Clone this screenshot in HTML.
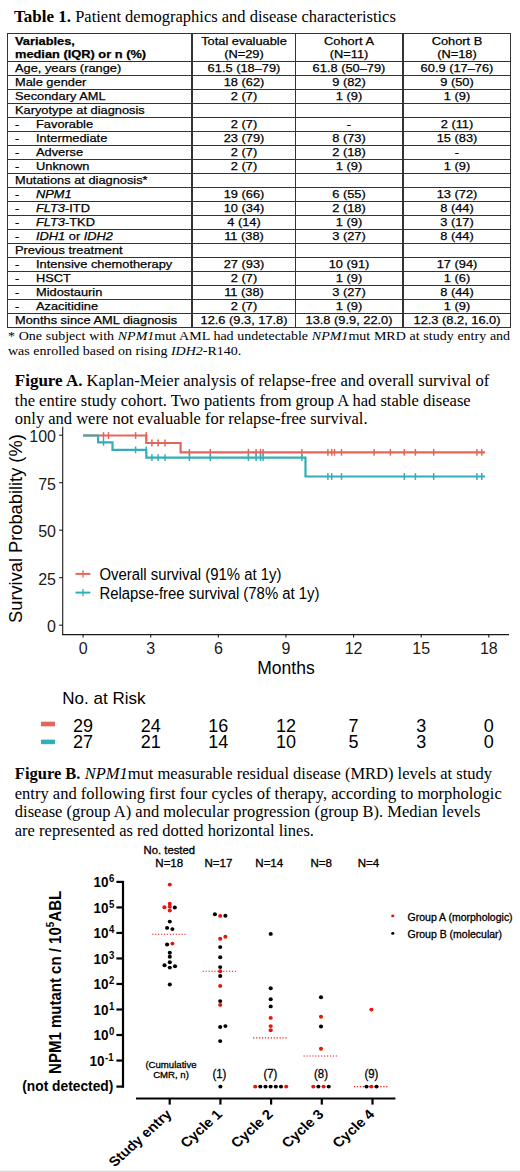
<!DOCTYPE html>
<html><head><meta charset="utf-8">
<style>
html,body{margin:0;padding:0;background:#fff;}
body{width:520px;height:1172px;position:relative;overflow:hidden;}
.t{position:absolute;white-space:nowrap;line-height:1;}
.serif{font-family:"Liberation Serif",serif;color:#000;}
.sans{font-family:"Liberation Sans",sans-serif;color:#000;}
.ln{position:absolute;background:#333;}
.tc{font-family:"Liberation Sans",sans-serif;font-size:11.4px;-webkit-text-stroke:0.25px #000;position:absolute;white-space:nowrap;line-height:1;color:#000;}
.L{transform-origin:0 0;transform:scaleX(1.167);}
.C{transform:translateX(-50%) scaleX(1.167);}
.L2{transform-origin:0 0;transform:scaleX(1.126);}
.C2{transform:translateX(-50%) scaleX(1.126);}
svg{position:absolute;left:0;top:0;}
</style></head><body>

<div class="t serif" style="left:14.00px;top:8.38px;font-size:16.5px;"><b style="font-size:17px">Table 1.</b> Patient demographics and disease characteristics</div>
<div class="ln" style="left:6.55px;top:32.85px;width:1.3px;height:294.95px"></div>
<div class="ln" style="left:191.25px;top:32.85px;width:1.3px;height:294.95px"></div>
<div class="ln" style="left:294.75px;top:32.85px;width:1.3px;height:294.95px"></div>
<div class="ln" style="left:402.25px;top:32.85px;width:1.3px;height:294.95px"></div>
<div class="ln" style="left:509.85px;top:32.85px;width:1.3px;height:294.95px"></div>
<div class="ln" style="left:6.55px;top:32.85px;width:504.60px;height:1.3px"></div>
<div class="ln" style="left:6.55px;top:60.50px;width:504.60px;height:1.3px"></div>
<div class="ln" style="left:6.55px;top:74.50px;width:504.60px;height:1.3px"></div>
<div class="ln" style="left:6.55px;top:88.50px;width:504.60px;height:1.3px"></div>
<div class="ln" style="left:6.55px;top:102.50px;width:504.60px;height:1.3px"></div>
<div class="ln" style="left:6.55px;top:116.50px;width:504.60px;height:1.3px"></div>
<div class="ln" style="left:6.55px;top:130.50px;width:504.60px;height:1.3px"></div>
<div class="ln" style="left:6.55px;top:144.50px;width:504.60px;height:1.3px"></div>
<div class="ln" style="left:6.55px;top:158.50px;width:504.60px;height:1.3px"></div>
<div class="ln" style="left:6.55px;top:172.50px;width:504.60px;height:1.3px"></div>
<div class="ln" style="left:6.55px;top:186.50px;width:504.60px;height:1.3px"></div>
<div class="ln" style="left:6.55px;top:200.50px;width:504.60px;height:1.3px"></div>
<div class="ln" style="left:6.55px;top:214.50px;width:504.60px;height:1.3px"></div>
<div class="ln" style="left:6.55px;top:228.50px;width:504.60px;height:1.3px"></div>
<div class="ln" style="left:6.55px;top:242.50px;width:504.60px;height:1.3px"></div>
<div class="ln" style="left:6.55px;top:256.50px;width:504.60px;height:1.3px"></div>
<div class="ln" style="left:6.55px;top:270.50px;width:504.60px;height:1.3px"></div>
<div class="ln" style="left:6.55px;top:284.50px;width:504.60px;height:1.3px"></div>
<div class="ln" style="left:6.55px;top:298.50px;width:504.60px;height:1.3px"></div>
<div class="ln" style="left:6.55px;top:312.50px;width:504.60px;height:1.3px"></div>
<div class="ln" style="left:6.55px;top:326.50px;width:504.60px;height:1.3px"></div>
<div class="tc L2" style="left:14.80px;top:35.65px;font-weight:bold;">Variables,</div>
<div class="tc L2" style="left:14.80px;top:48.55px;font-weight:bold;">median (IQR) or n (%)</div>
<div class="tc C2" style="left:243.65px;top:35.65px;">Total evaluable</div>
<div class="tc C2" style="left:243.65px;top:48.55px;">(N=29)</div>
<div class="tc C2" style="left:349.15px;top:35.65px;">Cohort A</div>
<div class="tc C2" style="left:349.15px;top:48.55px;">(N=11)</div>
<div class="tc C2" style="left:456.70px;top:35.65px;">Cohort B</div>
<div class="tc C2" style="left:456.70px;top:48.55px;">(N=18)</div>
<div class="tc L2" style="left:14.80px;top:63.45px;">Age, years (range)</div>
<div class="tc C2" style="left:243.65px;top:63.45px;">61.5 (18–79)</div>
<div class="tc C2" style="left:349.15px;top:63.45px;">61.8 (50–79)</div>
<div class="tc C2" style="left:456.70px;top:63.45px;">60.9 (17–76)</div>
<div class="tc L2" style="left:14.80px;top:77.45px;">Male gender</div>
<div class="tc C2" style="left:243.65px;top:77.45px;">18 (62)</div>
<div class="tc C2" style="left:349.15px;top:77.45px;">9 (82)</div>
<div class="tc C2" style="left:456.70px;top:77.45px;">9 (50)</div>
<div class="tc L2" style="left:14.80px;top:91.45px;">Secondary AML</div>
<div class="tc C2" style="left:243.65px;top:91.45px;">2 (7)</div>
<div class="tc C2" style="left:349.15px;top:91.45px;">1 (9)</div>
<div class="tc C2" style="left:456.70px;top:91.45px;">1 (9)</div>
<div class="tc L2" style="left:14.80px;top:105.45px;">Karyotype at diagnosis</div>
<div class="tc L2" style="left:14.80px;top:119.45px;">-</div>
<div class="tc L2" style="left:36.30px;top:119.45px;">Favorable</div>
<div class="tc C2" style="left:243.65px;top:119.45px;">2 (7)</div>
<div class="tc C2" style="left:349.15px;top:119.45px;">-</div>
<div class="tc C2" style="left:456.70px;top:119.45px;">2 (11)</div>
<div class="tc L2" style="left:14.80px;top:133.45px;">-</div>
<div class="tc L2" style="left:36.30px;top:133.45px;">Intermediate</div>
<div class="tc C2" style="left:243.65px;top:133.45px;">23 (79)</div>
<div class="tc C2" style="left:349.15px;top:133.45px;">8 (73)</div>
<div class="tc C2" style="left:456.70px;top:133.45px;">15 (83)</div>
<div class="tc L2" style="left:14.80px;top:147.45px;">-</div>
<div class="tc L2" style="left:36.30px;top:147.45px;">Adverse</div>
<div class="tc C2" style="left:243.65px;top:147.45px;">2 (7)</div>
<div class="tc C2" style="left:349.15px;top:147.45px;">2 (18)</div>
<div class="tc C2" style="left:456.70px;top:147.45px;">-</div>
<div class="tc L2" style="left:14.80px;top:161.45px;">-</div>
<div class="tc L2" style="left:36.30px;top:161.45px;">Unknown</div>
<div class="tc C2" style="left:243.65px;top:161.45px;">2 (7)</div>
<div class="tc C2" style="left:349.15px;top:161.45px;">1 (9)</div>
<div class="tc C2" style="left:456.70px;top:161.45px;">1 (9)</div>
<div class="tc L2" style="left:14.80px;top:175.45px;">Mutations at diagnosis*</div>
<div class="tc L2" style="left:14.80px;top:189.45px;">-</div>
<div class="tc L2" style="left:36.30px;top:189.45px;"><i>NPM1</i></div>
<div class="tc C2" style="left:243.65px;top:189.45px;">19 (66)</div>
<div class="tc C2" style="left:349.15px;top:189.45px;">6 (55)</div>
<div class="tc C2" style="left:456.70px;top:189.45px;">13 (72)</div>
<div class="tc L2" style="left:14.80px;top:203.45px;">-</div>
<div class="tc L2" style="left:36.30px;top:203.45px;"><i>FLT3</i>-ITD</div>
<div class="tc C2" style="left:243.65px;top:203.45px;">10 (34)</div>
<div class="tc C2" style="left:349.15px;top:203.45px;">2 (18)</div>
<div class="tc C2" style="left:456.70px;top:203.45px;">8 (44)</div>
<div class="tc L2" style="left:14.80px;top:217.45px;">-</div>
<div class="tc L2" style="left:36.30px;top:217.45px;"><i>FLT3</i>-TKD</div>
<div class="tc C2" style="left:243.65px;top:217.45px;">4 (14)</div>
<div class="tc C2" style="left:349.15px;top:217.45px;">1 (9)</div>
<div class="tc C2" style="left:456.70px;top:217.45px;">3 (17)</div>
<div class="tc L2" style="left:14.80px;top:231.45px;">-</div>
<div class="tc L2" style="left:36.30px;top:231.45px;"><i>IDH1</i> or <i>IDH2</i></div>
<div class="tc C2" style="left:243.65px;top:231.45px;">11 (38)</div>
<div class="tc C2" style="left:349.15px;top:231.45px;">3 (27)</div>
<div class="tc C2" style="left:456.70px;top:231.45px;">8 (44)</div>
<div class="tc L2" style="left:14.80px;top:245.45px;">Previous treatment</div>
<div class="tc L2" style="left:14.80px;top:259.45px;">-</div>
<div class="tc L2" style="left:36.30px;top:259.45px;">Intensive chemotherapy</div>
<div class="tc C2" style="left:243.65px;top:259.45px;">27 (93)</div>
<div class="tc C2" style="left:349.15px;top:259.45px;">10 (91)</div>
<div class="tc C2" style="left:456.70px;top:259.45px;">17 (94)</div>
<div class="tc L2" style="left:14.80px;top:273.45px;">-</div>
<div class="tc L2" style="left:36.30px;top:273.45px;">HSCT</div>
<div class="tc C2" style="left:243.65px;top:273.45px;">2 (7)</div>
<div class="tc C2" style="left:349.15px;top:273.45px;">1 (9)</div>
<div class="tc C2" style="left:456.70px;top:273.45px;">1 (6)</div>
<div class="tc L2" style="left:14.80px;top:287.45px;">-</div>
<div class="tc L2" style="left:36.30px;top:287.45px;">Midostaurin</div>
<div class="tc C2" style="left:243.65px;top:287.45px;">11 (38)</div>
<div class="tc C2" style="left:349.15px;top:287.45px;">3 (27)</div>
<div class="tc C2" style="left:456.70px;top:287.45px;">8 (44)</div>
<div class="tc L2" style="left:14.80px;top:301.45px;">-</div>
<div class="tc L2" style="left:36.30px;top:301.45px;">Azacitidine</div>
<div class="tc C2" style="left:243.65px;top:301.45px;">2 (7)</div>
<div class="tc C2" style="left:349.15px;top:301.45px;">1 (9)</div>
<div class="tc C2" style="left:456.70px;top:301.45px;">1 (9)</div>
<div class="tc L2" style="left:14.80px;top:315.45px;">Months since AML diagnosis</div>
<div class="tc C2" style="left:243.65px;top:315.45px;">12.6 (9.3, 17.8)</div>
<div class="tc C2" style="left:349.15px;top:315.45px;">13.8 (9.9, 22.0)</div>
<div class="tc C2" style="left:456.70px;top:315.45px;">12.3 (8.2, 16.0)</div>
<div class="t serif L" style="left:8.20px;top:329.55px;font-size:12px;width:430.25px;text-align:justify;text-align-last:justify;">* One subject with <i>NPM1</i>mut AML had undetectable <i>NPM1</i>mut MRD at study entry and</div>
<div class="t serif L" style="left:8.20px;top:344.55px;font-size:12px;">was enrolled based on rising <i>IDH2</i>-R140.</div>
<div class="t serif" style="left:14.80px;top:372.48px;font-size:16.5px;"><b style="font-size:17px">Figure A.</b> Kaplan-Meier analysis of relapse-free and overall survival of</div>
<div class="t serif" style="left:14.80px;top:392.98px;font-size:16.5px;">the entire study cohort. Two patients from group A had stable disease</div>
<div class="t serif" style="left:14.80px;top:410.68px;font-size:16.5px;">only and were not evaluable for relapse-free survival.</div>
<div class="t serif" style="left:14.80px;top:765.68px;font-size:16.5px;"><b>Figure B.</b> <i>NPM1</i>mut measurable residual disease (MRD) levels at study</div>
<div class="t serif" style="left:14.80px;top:785.88px;font-size:16.5px;">entry and following first four cycles of therapy, according to morphologic</div>
<div class="t serif" style="left:14.80px;top:803.78px;font-size:16.5px;">disease (group A) and molecular progression (group B). Median levels</div>
<div class="t serif" style="left:14.80px;top:822.78px;font-size:16.5px;">are represented as red dotted horizontal lines.</div>
<svg width="520" height="1172" viewBox="0 0 520 1172"><line x1="62.7" y1="426.7" x2="62.7" y2="635.1" stroke="#1a1a1a" stroke-width="1.1"/><line x1="62.2" y1="634.6" x2="509.0" y2="634.6" stroke="#1a1a1a" stroke-width="1.1"/><line x1="59.2" y1="625.20" x2="62.7" y2="625.20" stroke="#1a1a1a" stroke-width="1.1"/><text x="56.0" y="632.10" font-family="Liberation Sans" font-size="16" text-anchor="end" fill="#1a1a1a">0</text><line x1="59.2" y1="577.70" x2="62.7" y2="577.70" stroke="#1a1a1a" stroke-width="1.1"/><text x="56.0" y="584.60" font-family="Liberation Sans" font-size="16" text-anchor="end" fill="#1a1a1a">25</text><line x1="59.2" y1="530.20" x2="62.7" y2="530.20" stroke="#1a1a1a" stroke-width="1.1"/><text x="56.0" y="537.10" font-family="Liberation Sans" font-size="16" text-anchor="end" fill="#1a1a1a">50</text><line x1="59.2" y1="482.70" x2="62.7" y2="482.70" stroke="#1a1a1a" stroke-width="1.1"/><text x="56.0" y="489.60" font-family="Liberation Sans" font-size="16" text-anchor="end" fill="#1a1a1a">75</text><line x1="59.2" y1="435.20" x2="62.7" y2="435.20" stroke="#1a1a1a" stroke-width="1.1"/><text x="56.0" y="442.10" font-family="Liberation Sans" font-size="16" text-anchor="end" fill="#1a1a1a">100</text><line x1="83.10" y1="634.6" x2="83.10" y2="637.6" stroke="#1a1a1a" stroke-width="1.1"/><text x="83.10" y="653.5" font-family="Liberation Sans" font-size="16" text-anchor="middle" fill="#1a1a1a">0</text><line x1="150.72" y1="634.6" x2="150.72" y2="637.6" stroke="#1a1a1a" stroke-width="1.1"/><text x="150.72" y="653.5" font-family="Liberation Sans" font-size="16" text-anchor="middle" fill="#1a1a1a">3</text><line x1="218.33" y1="634.6" x2="218.33" y2="637.6" stroke="#1a1a1a" stroke-width="1.1"/><text x="218.33" y="653.5" font-family="Liberation Sans" font-size="16" text-anchor="middle" fill="#1a1a1a">6</text><line x1="285.95" y1="634.6" x2="285.95" y2="637.6" stroke="#1a1a1a" stroke-width="1.1"/><text x="285.95" y="653.5" font-family="Liberation Sans" font-size="16" text-anchor="middle" fill="#1a1a1a">9</text><line x1="353.57" y1="634.6" x2="353.57" y2="637.6" stroke="#1a1a1a" stroke-width="1.1"/><text x="353.57" y="653.5" font-family="Liberation Sans" font-size="16" text-anchor="middle" fill="#1a1a1a">12</text><line x1="421.18" y1="634.6" x2="421.18" y2="637.6" stroke="#1a1a1a" stroke-width="1.1"/><text x="421.18" y="653.5" font-family="Liberation Sans" font-size="16" text-anchor="middle" fill="#1a1a1a">15</text><line x1="488.80" y1="634.6" x2="488.80" y2="637.6" stroke="#1a1a1a" stroke-width="1.1"/><text x="488.80" y="653.5" font-family="Liberation Sans" font-size="16" text-anchor="middle" fill="#1a1a1a">18</text><text x="286" y="673.8" font-family="Liberation Sans" font-size="17.5" text-anchor="middle" fill="#000">Months</text><text transform="translate(22.2,528.6) rotate(-90)" font-family="Liberation Sans" font-size="18.25" text-anchor="middle" fill="#000">Survival Probability (%)</text><path d="M83.10,435.50 L146.30,435.50 L146.30,443.00 L180.60,443.00 L180.60,452.30 L485.00,452.30" fill="none" stroke="#E3665C" stroke-width="2.2" stroke-linejoin="miter"/><path d="M83.10,435.50 L98.10,435.50 L98.10,442.40 L112.50,442.40 L112.50,449.90 L146.30,449.90 L146.30,457.60 L305.50,457.60 L305.50,476.50 L485.00,476.50" fill="none" stroke="#33AEB8" stroke-width="2.2" stroke-linejoin="miter"/><line x1="103.50" y1="432.10" x2="103.50" y2="438.90" stroke="#E3665C" stroke-width="1.5"/><line x1="108.50" y1="432.10" x2="108.50" y2="438.90" stroke="#E3665C" stroke-width="1.5"/><line x1="135.60" y1="432.10" x2="135.60" y2="438.90" stroke="#E3665C" stroke-width="1.5"/><line x1="146.30" y1="432.10" x2="146.30" y2="438.90" stroke="#E3665C" stroke-width="1.5"/><line x1="151.90" y1="439.60" x2="151.90" y2="446.40" stroke="#E3665C" stroke-width="1.5"/><line x1="158.10" y1="439.60" x2="158.10" y2="446.40" stroke="#E3665C" stroke-width="1.5"/><line x1="165.00" y1="439.60" x2="165.00" y2="446.40" stroke="#E3665C" stroke-width="1.5"/><line x1="189.40" y1="448.90" x2="189.40" y2="455.70" stroke="#E3665C" stroke-width="1.5"/><line x1="210.30" y1="448.90" x2="210.30" y2="455.70" stroke="#E3665C" stroke-width="1.5"/><line x1="248.40" y1="448.90" x2="248.40" y2="455.70" stroke="#E3665C" stroke-width="1.5"/><line x1="256.10" y1="448.90" x2="256.10" y2="455.70" stroke="#E3665C" stroke-width="1.5"/><line x1="260.50" y1="448.90" x2="260.50" y2="455.70" stroke="#E3665C" stroke-width="1.5"/><line x1="263.10" y1="448.90" x2="263.10" y2="455.70" stroke="#E3665C" stroke-width="1.5"/><line x1="301.90" y1="448.90" x2="301.90" y2="455.70" stroke="#E3665C" stroke-width="1.5"/><line x1="327.90" y1="448.90" x2="327.90" y2="455.70" stroke="#E3665C" stroke-width="1.5"/><line x1="331.70" y1="448.90" x2="331.70" y2="455.70" stroke="#E3665C" stroke-width="1.5"/><line x1="334.50" y1="448.90" x2="334.50" y2="455.70" stroke="#E3665C" stroke-width="1.5"/><line x1="341.50" y1="448.90" x2="341.50" y2="455.70" stroke="#E3665C" stroke-width="1.5"/><line x1="374.10" y1="448.90" x2="374.10" y2="455.70" stroke="#E3665C" stroke-width="1.5"/><line x1="390.40" y1="448.90" x2="390.40" y2="455.70" stroke="#E3665C" stroke-width="1.5"/><line x1="404.30" y1="448.90" x2="404.30" y2="455.70" stroke="#E3665C" stroke-width="1.5"/><line x1="415.40" y1="448.90" x2="415.40" y2="455.70" stroke="#E3665C" stroke-width="1.5"/><line x1="433.70" y1="448.90" x2="433.70" y2="455.70" stroke="#E3665C" stroke-width="1.5"/><line x1="476.90" y1="448.90" x2="476.90" y2="455.70" stroke="#E3665C" stroke-width="1.5"/><line x1="481.80" y1="448.90" x2="481.80" y2="455.70" stroke="#E3665C" stroke-width="1.5"/><line x1="103.50" y1="439.00" x2="103.50" y2="445.80" stroke="#33AEB8" stroke-width="1.5"/><line x1="135.60" y1="446.50" x2="135.60" y2="453.30" stroke="#33AEB8" stroke-width="1.5"/><line x1="146.30" y1="446.50" x2="146.30" y2="453.30" stroke="#33AEB8" stroke-width="1.5"/><line x1="151.90" y1="454.20" x2="151.90" y2="461.00" stroke="#33AEB8" stroke-width="1.5"/><line x1="158.10" y1="454.20" x2="158.10" y2="461.00" stroke="#33AEB8" stroke-width="1.5"/><line x1="165.00" y1="454.20" x2="165.00" y2="461.00" stroke="#33AEB8" stroke-width="1.5"/><line x1="189.40" y1="454.20" x2="189.40" y2="461.00" stroke="#33AEB8" stroke-width="1.5"/><line x1="210.30" y1="454.20" x2="210.30" y2="461.00" stroke="#33AEB8" stroke-width="1.5"/><line x1="248.40" y1="454.20" x2="248.40" y2="461.00" stroke="#33AEB8" stroke-width="1.5"/><line x1="256.10" y1="454.20" x2="256.10" y2="461.00" stroke="#33AEB8" stroke-width="1.5"/><line x1="260.50" y1="454.20" x2="260.50" y2="461.00" stroke="#33AEB8" stroke-width="1.5"/><line x1="263.10" y1="454.20" x2="263.10" y2="461.00" stroke="#33AEB8" stroke-width="1.5"/><line x1="301.90" y1="454.20" x2="301.90" y2="461.00" stroke="#33AEB8" stroke-width="1.5"/><line x1="327.90" y1="473.10" x2="327.90" y2="479.90" stroke="#33AEB8" stroke-width="1.5"/><line x1="331.70" y1="473.10" x2="331.70" y2="479.90" stroke="#33AEB8" stroke-width="1.5"/><line x1="341.50" y1="473.10" x2="341.50" y2="479.90" stroke="#33AEB8" stroke-width="1.5"/><line x1="404.30" y1="473.10" x2="404.30" y2="479.90" stroke="#33AEB8" stroke-width="1.5"/><line x1="415.40" y1="473.10" x2="415.40" y2="479.90" stroke="#33AEB8" stroke-width="1.5"/><line x1="433.70" y1="473.10" x2="433.70" y2="479.90" stroke="#33AEB8" stroke-width="1.5"/><line x1="476.90" y1="473.10" x2="476.90" y2="479.90" stroke="#33AEB8" stroke-width="1.5"/><line x1="481.80" y1="473.10" x2="481.80" y2="479.90" stroke="#33AEB8" stroke-width="1.5"/><line x1="75.5" y1="573.9" x2="90.3" y2="573.9" stroke="#E3665C" stroke-width="2"/><line x1="83" y1="570.3" x2="83" y2="577.5" stroke="#E3665C" stroke-width="1.3"/><text transform="translate(99.4,579.80) scale(0.943,1)" font-family="Liberation Sans" font-size="15.8" fill="#000">Overall survival (91% at 1y)</text><line x1="75.5" y1="592.6" x2="90.3" y2="592.6" stroke="#33AEB8" stroke-width="2"/><line x1="83" y1="589.0" x2="83" y2="596.2" stroke="#33AEB8" stroke-width="1.3"/><text transform="translate(99.4,598.50) scale(0.943,1)" font-family="Liberation Sans" font-size="15.8" fill="#000">Relapse-free survival (78% at 1y)</text><text x="62.3" y="703.8" font-family="Liberation Sans" font-size="17" fill="#000">No. at Risk</text><rect x="41" y="721.7" width="14" height="4.6" fill="#E3665C"/><rect x="41" y="739.6" width="14" height="4.6" fill="#33AEB8"/><text x="83.10" y="731.6" font-family="Liberation Sans" font-size="18" text-anchor="middle" fill="#000">29</text><text x="83.10" y="748.2" font-family="Liberation Sans" font-size="18" text-anchor="middle" fill="#000">27</text><text x="150.72" y="731.6" font-family="Liberation Sans" font-size="18" text-anchor="middle" fill="#000">24</text><text x="150.72" y="748.2" font-family="Liberation Sans" font-size="18" text-anchor="middle" fill="#000">21</text><text x="218.33" y="731.6" font-family="Liberation Sans" font-size="18" text-anchor="middle" fill="#000">16</text><text x="218.33" y="748.2" font-family="Liberation Sans" font-size="18" text-anchor="middle" fill="#000">14</text><text x="285.95" y="731.6" font-family="Liberation Sans" font-size="18" text-anchor="middle" fill="#000">12</text><text x="285.95" y="748.2" font-family="Liberation Sans" font-size="18" text-anchor="middle" fill="#000">10</text><text x="353.57" y="731.6" font-family="Liberation Sans" font-size="18" text-anchor="middle" fill="#000">7</text><text x="353.57" y="748.2" font-family="Liberation Sans" font-size="18" text-anchor="middle" fill="#000">5</text><text x="421.18" y="731.6" font-family="Liberation Sans" font-size="18" text-anchor="middle" fill="#000">3</text><text x="421.18" y="748.2" font-family="Liberation Sans" font-size="18" text-anchor="middle" fill="#000">3</text><text x="488.80" y="731.6" font-family="Liberation Sans" font-size="18" text-anchor="middle" fill="#000">0</text><text x="488.80" y="748.2" font-family="Liberation Sans" font-size="18" text-anchor="middle" fill="#000">0</text><line x1="123" y1="880.9" x2="123" y2="1087.5" stroke="#000" stroke-width="2.2"/><line x1="116.4" y1="881.90" x2="123" y2="881.90" stroke="#000" stroke-width="2.2"/><text transform="translate(108.40,887.30) scale(0.9,1)" font-family="Liberation Sans" font-weight="bold" font-size="15" text-anchor="end" fill="#000">10</text><text transform="translate(108.90,882.30) scale(0.89,1)" font-family="Liberation Sans" font-weight="bold" font-size="10.8" fill="#000">6</text><line x1="116.4" y1="907.42" x2="123" y2="907.42" stroke="#000" stroke-width="2.2"/><text transform="translate(108.40,912.82) scale(0.9,1)" font-family="Liberation Sans" font-weight="bold" font-size="15" text-anchor="end" fill="#000">10</text><text transform="translate(108.90,907.82) scale(0.89,1)" font-family="Liberation Sans" font-weight="bold" font-size="10.8" fill="#000">5</text><line x1="116.4" y1="932.94" x2="123" y2="932.94" stroke="#000" stroke-width="2.2"/><text transform="translate(108.40,938.34) scale(0.9,1)" font-family="Liberation Sans" font-weight="bold" font-size="15" text-anchor="end" fill="#000">10</text><text transform="translate(108.90,933.34) scale(0.89,1)" font-family="Liberation Sans" font-weight="bold" font-size="10.8" fill="#000">4</text><line x1="116.4" y1="958.46" x2="123" y2="958.46" stroke="#000" stroke-width="2.2"/><text transform="translate(108.40,963.86) scale(0.9,1)" font-family="Liberation Sans" font-weight="bold" font-size="15" text-anchor="end" fill="#000">10</text><text transform="translate(108.90,958.86) scale(0.89,1)" font-family="Liberation Sans" font-weight="bold" font-size="10.8" fill="#000">3</text><line x1="116.4" y1="983.98" x2="123" y2="983.98" stroke="#000" stroke-width="2.2"/><text transform="translate(108.40,989.38) scale(0.9,1)" font-family="Liberation Sans" font-weight="bold" font-size="15" text-anchor="end" fill="#000">10</text><text transform="translate(108.90,984.38) scale(0.89,1)" font-family="Liberation Sans" font-weight="bold" font-size="10.8" fill="#000">2</text><line x1="116.4" y1="1009.50" x2="123" y2="1009.50" stroke="#000" stroke-width="2.2"/><text transform="translate(108.40,1014.90) scale(0.9,1)" font-family="Liberation Sans" font-weight="bold" font-size="15" text-anchor="end" fill="#000">10</text><text transform="translate(108.90,1009.90) scale(0.89,1)" font-family="Liberation Sans" font-weight="bold" font-size="10.8" fill="#000">1</text><line x1="116.4" y1="1035.02" x2="123" y2="1035.02" stroke="#000" stroke-width="2.2"/><text transform="translate(108.40,1040.42) scale(0.9,1)" font-family="Liberation Sans" font-weight="bold" font-size="15" text-anchor="end" fill="#000">10</text><text transform="translate(108.90,1035.42) scale(0.89,1)" font-family="Liberation Sans" font-weight="bold" font-size="10.8" fill="#000">0</text><line x1="116.4" y1="1060.54" x2="123" y2="1060.54" stroke="#000" stroke-width="2.2"/><text transform="translate(104.60,1065.94) scale(0.9,1)" font-family="Liberation Sans" font-weight="bold" font-size="15" text-anchor="end" fill="#000">10</text><text transform="translate(105.10,1060.94) scale(0.89,1)" font-family="Liberation Sans" font-weight="bold" font-size="10.8" fill="#000">-1</text><line x1="116.4" y1="1086.60" x2="124" y2="1086.60" stroke="#000" stroke-width="2.2"/><text transform="translate(113.3,1090.70) scale(0.985,1)" font-family="Liberation Sans" font-weight="bold" font-size="14" text-anchor="end" fill="#000">(not detected)</text><text transform="translate(60.8,982.4) scale(1.08,1) rotate(-90)" font-family="Liberation Sans" font-weight="bold" font-size="15" text-anchor="middle" fill="#000">NPM1 mutant cn / 10<tspan font-size="10" dy="-6">5</tspan><tspan dy="6">ABL</tspan></text><line x1="136" y1="1098.5" x2="395.4" y2="1098.5" stroke="#000" stroke-width="2.2"/><line x1="169.7" y1="1098.5" x2="169.7" y2="1104.6" stroke="#000" stroke-width="2.2"/><text transform="translate(172.50,1115.10) scale(1.1,1) rotate(-45)" font-family="Liberation Sans" font-weight="bold" font-size="13.5" text-anchor="end" fill="#000">Study entry</text><line x1="220.4" y1="1098.5" x2="220.4" y2="1104.6" stroke="#000" stroke-width="2.2"/><text transform="translate(223.20,1115.10) scale(1.1,1) rotate(-45)" font-family="Liberation Sans" font-weight="bold" font-size="13.5" text-anchor="end" fill="#000">Cycle 1</text><line x1="271.1" y1="1098.5" x2="271.1" y2="1104.6" stroke="#000" stroke-width="2.2"/><text transform="translate(273.90,1115.10) scale(1.1,1) rotate(-45)" font-family="Liberation Sans" font-weight="bold" font-size="13.5" text-anchor="end" fill="#000">Cycle 2</text><line x1="321.8" y1="1098.5" x2="321.8" y2="1104.6" stroke="#000" stroke-width="2.2"/><text transform="translate(324.60,1115.10) scale(1.1,1) rotate(-45)" font-family="Liberation Sans" font-weight="bold" font-size="13.5" text-anchor="end" fill="#000">Cycle 3</text><line x1="372.5" y1="1098.5" x2="372.5" y2="1104.6" stroke="#000" stroke-width="2.2"/><text transform="translate(375.30,1115.10) scale(1.1,1) rotate(-45)" font-family="Liberation Sans" font-weight="bold" font-size="13.5" text-anchor="end" fill="#000">Cycle 4</text><text transform="translate(143.6,854.4) scale(1.13,1)" font-family="Liberation Sans" font-size="10" fill="#000" stroke="#000" stroke-width="0.3">No. tested</text><text transform="translate(169.25,867.1) scale(1.1,1)" font-family="Liberation Sans" font-size="10.5" text-anchor="middle" fill="#000" stroke="#000" stroke-width="0.3">N=18</text><text transform="translate(218.4,867.1) scale(1.1,1)" font-family="Liberation Sans" font-size="10.5" text-anchor="middle" fill="#000" stroke="#000" stroke-width="0.3">N=17</text><text transform="translate(269.25,867.1) scale(1.1,1)" font-family="Liberation Sans" font-size="10.5" text-anchor="middle" fill="#000" stroke="#000" stroke-width="0.3">N=14</text><text transform="translate(321.2,867.1) scale(1.1,1)" font-family="Liberation Sans" font-size="10.5" text-anchor="middle" fill="#000" stroke="#000" stroke-width="0.3">N=8</text><text transform="translate(368.5,867.1) scale(1.1,1)" font-family="Liberation Sans" font-size="10.5" text-anchor="middle" fill="#000" stroke="#000" stroke-width="0.3">N=4</text><text transform="translate(171,1068.1) scale(1.0,1)" font-family="Liberation Sans" font-size="9.6" text-anchor="middle" fill="#000" stroke="#000" stroke-width="0.3">(Cumulative</text><text transform="translate(171,1077.6) scale(1.0,1)" font-family="Liberation Sans" font-size="9.6" text-anchor="middle" fill="#000" stroke="#000" stroke-width="0.3">CMR, n)</text><text transform="translate(219.4,1077.5) scale(0.94,1)" font-family="Liberation Sans" font-size="12.1" text-anchor="middle" fill="#000" stroke="#000" stroke-width="0.3">(1)</text><text transform="translate(270.4,1077.5) scale(0.94,1)" font-family="Liberation Sans" font-size="12.1" text-anchor="middle" fill="#000" stroke="#000" stroke-width="0.3">(7)</text><text transform="translate(321.0,1077.5) scale(0.94,1)" font-family="Liberation Sans" font-size="12.1" text-anchor="middle" fill="#000" stroke="#000" stroke-width="0.3">(8)</text><text transform="translate(371.4,1077.5) scale(0.94,1)" font-family="Liberation Sans" font-size="12.1" text-anchor="middle" fill="#000" stroke="#000" stroke-width="0.3">(9)</text><ellipse cx="392.8" cy="915.9" rx="1.6" ry="1.4" fill="#E8150B"/><ellipse cx="392.8" cy="933.4" rx="1.6" ry="1.4" fill="#000"/><text transform="translate(407.6,920.7) scale(1.05,1)" font-family="Liberation Sans" font-size="10" fill="#000" stroke="#000" stroke-width="0.3">Group A (morphologic)</text><text transform="translate(407.6,938.2) scale(1.05,1)" font-family="Liberation Sans" font-size="10" fill="#000" stroke="#000" stroke-width="0.3">Group B (molecular)</text><line x1="152.2" y1="934.2" x2="185.7" y2="934.2" stroke="#E8150B" stroke-width="1.15" stroke-dasharray="1.2 1.73"/><line x1="202.7" y1="971.2" x2="236.2" y2="971.2" stroke="#E8150B" stroke-width="1.15" stroke-dasharray="1.2 1.73"/><line x1="253.2" y1="1037.9" x2="286.7" y2="1037.9" stroke="#E8150B" stroke-width="1.15" stroke-dasharray="1.2 1.73"/><line x1="303.5" y1="1056.0" x2="337.0" y2="1056.0" stroke="#E8150B" stroke-width="1.15" stroke-dasharray="1.2 1.73"/><line x1="354.0" y1="1086.6" x2="387.5" y2="1086.6" stroke="#E8150B" stroke-width="1.15" stroke-dasharray="1.2 1.73"/><ellipse cx="169.8" cy="884.6" rx="2.05" ry="1.95" fill="#E8150B"/><ellipse cx="169.8" cy="903.7" rx="2.05" ry="1.95" fill="#E8150B"/><ellipse cx="169.8" cy="906.8" rx="2.05" ry="1.95" fill="#E8150B"/><ellipse cx="164.4" cy="907.2" rx="2.05" ry="1.95" fill="#E8150B"/><ellipse cx="174.8" cy="907.5" rx="2.05" ry="1.95" fill="#000"/><ellipse cx="169.8" cy="910.6" rx="2.05" ry="1.95" fill="#E8150B"/><ellipse cx="169.8" cy="921.6" rx="2.05" ry="1.95" fill="#000"/><ellipse cx="167.1" cy="927.9" rx="2.05" ry="1.95" fill="#000"/><ellipse cx="172.4" cy="929.1" rx="2.05" ry="1.95" fill="#000"/><ellipse cx="167.1" cy="944.5" rx="2.05" ry="1.95" fill="#000"/><ellipse cx="172.4" cy="943.6" rx="2.05" ry="1.95" fill="#E8150B"/><ellipse cx="169.8" cy="952.7" rx="2.05" ry="1.95" fill="#000"/><ellipse cx="169.8" cy="956.7" rx="2.05" ry="1.95" fill="#000"/><ellipse cx="169.8" cy="962.3" rx="2.05" ry="1.95" fill="#000"/><ellipse cx="164.5" cy="965.2" rx="2.05" ry="1.95" fill="#000"/><ellipse cx="175.0" cy="966.3" rx="2.05" ry="1.95" fill="#000"/><ellipse cx="169.8" cy="967.6" rx="2.05" ry="1.95" fill="#000"/><ellipse cx="169.8" cy="984.5" rx="2.05" ry="1.95" fill="#000"/><ellipse cx="214.9" cy="914.2" rx="2.05" ry="1.95" fill="#000"/><ellipse cx="220.2" cy="915.9" rx="2.05" ry="1.95" fill="#E8150B"/><ellipse cx="225.4" cy="915.7" rx="2.05" ry="1.95" fill="#000"/><ellipse cx="225.4" cy="936.8" rx="2.05" ry="1.95" fill="#E8150B"/><ellipse cx="220.2" cy="938.8" rx="2.05" ry="1.95" fill="#E8150B"/><ellipse cx="220.2" cy="947.1" rx="2.05" ry="1.95" fill="#000"/><ellipse cx="220.2" cy="957.3" rx="2.05" ry="1.95" fill="#000"/><ellipse cx="220.2" cy="967.1" rx="2.05" ry="1.95" fill="#000"/><ellipse cx="220.2" cy="971.2" rx="2.05" ry="1.95" fill="#E8150B"/><ellipse cx="220.2" cy="976.0" rx="2.05" ry="1.95" fill="#000"/><ellipse cx="220.2" cy="985.9" rx="2.05" ry="1.95" fill="#E8150B"/><ellipse cx="220.2" cy="1001.1" rx="2.05" ry="1.95" fill="#000"/><ellipse cx="220.2" cy="1004.9" rx="2.05" ry="1.95" fill="#E8150B"/><ellipse cx="220.2" cy="1027.0" rx="2.05" ry="1.95" fill="#000"/><ellipse cx="225.4" cy="1026.1" rx="2.05" ry="1.95" fill="#000"/><ellipse cx="220.2" cy="1041.1" rx="2.05" ry="1.95" fill="#000"/><ellipse cx="220.4" cy="1086.6" rx="2.05" ry="1.95" fill="#000"/><ellipse cx="270.7" cy="933.9" rx="2.05" ry="1.95" fill="#000"/><ellipse cx="270.7" cy="988.2" rx="2.05" ry="1.95" fill="#000"/><ellipse cx="270.7" cy="999.3" rx="2.05" ry="1.95" fill="#000"/><ellipse cx="270.7" cy="1006.4" rx="2.05" ry="1.95" fill="#000"/><ellipse cx="270.7" cy="1017.9" rx="2.05" ry="1.95" fill="#E8150B"/><ellipse cx="270.7" cy="1026.1" rx="2.05" ry="1.95" fill="#E8150B"/><ellipse cx="270.7" cy="1030.2" rx="2.05" ry="1.95" fill="#E8150B"/><ellipse cx="255.2" cy="1086.6" rx="2.05" ry="1.95" fill="#E8150B"/><ellipse cx="260.3" cy="1086.6" rx="2.05" ry="1.95" fill="#000"/><ellipse cx="265.5" cy="1086.6" rx="2.05" ry="1.95" fill="#000"/><ellipse cx="270.6" cy="1086.6" rx="2.05" ry="1.95" fill="#000"/><ellipse cx="275.8" cy="1086.6" rx="2.05" ry="1.95" fill="#000"/><ellipse cx="281.0" cy="1086.6" rx="2.05" ry="1.95" fill="#000"/><ellipse cx="286.2" cy="1086.6" rx="2.05" ry="1.95" fill="#E8150B"/><ellipse cx="321.0" cy="997.2" rx="2.05" ry="1.95" fill="#000"/><ellipse cx="321.0" cy="1016.7" rx="2.05" ry="1.95" fill="#E8150B"/><ellipse cx="321.0" cy="1026.5" rx="2.05" ry="1.95" fill="#000"/><ellipse cx="321.0" cy="1048.7" rx="2.05" ry="1.95" fill="#E8150B"/><ellipse cx="313.3" cy="1086.6" rx="2.05" ry="1.95" fill="#E8150B"/><ellipse cx="318.4" cy="1086.6" rx="2.05" ry="1.95" fill="#000"/><ellipse cx="323.6" cy="1086.6" rx="2.05" ry="1.95" fill="#E8150B"/><ellipse cx="328.7" cy="1086.6" rx="2.05" ry="1.95" fill="#000"/><ellipse cx="371.4" cy="1009.6" rx="2.05" ry="1.95" fill="#E8150B"/><ellipse cx="366.5" cy="1086.6" rx="2.05" ry="1.95" fill="#000"/><ellipse cx="371.4" cy="1086.6" rx="2.05" ry="1.95" fill="#E8150B"/><ellipse cx="376.5" cy="1086.6" rx="2.05" ry="1.95" fill="#000"/></svg>
<div style="position:absolute;left:0;top:1170px;width:520px;height:1px;background:#f1f1f1"></div>
<div style="position:absolute;left:0;top:1171px;width:520px;height:1px;background:#d8d8d8"></div>
</body></html>
